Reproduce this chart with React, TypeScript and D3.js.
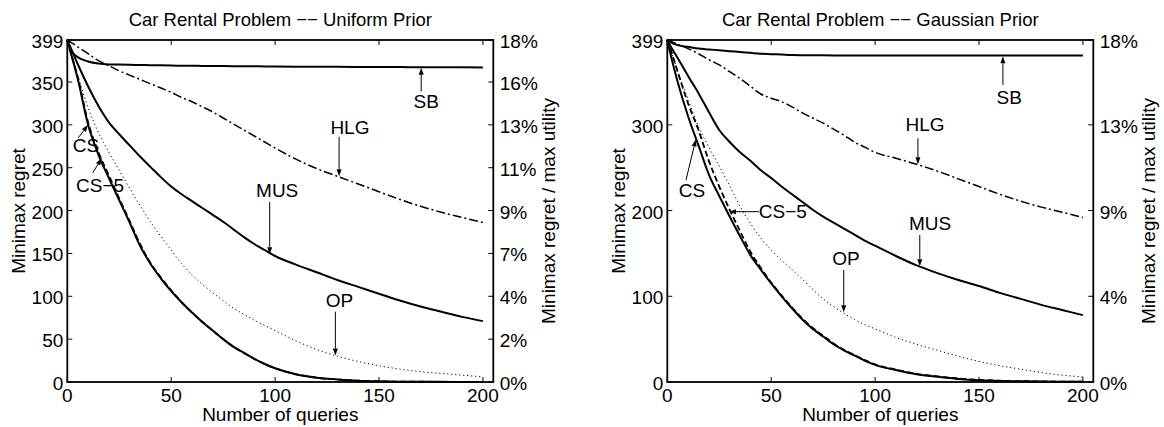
import React from "react";
import * as d3 from "d3";

const queries = [0, 2, 5, 10, 15, 20, 25, 30, 35, 40, 45, 50, 55, 60, 65, 70, 75, 80, 85, 90, 95, 100, 110, 120, 130, 140, 150, 160, 170, 180, 190, 200];

// Uniform prior
const sbUniform = [399, 386, 379, 374, 371.5, 370.5, 370.3, 370, 369.8, 369.6, 369.4, 369.2, 369, 368.9, 368.8, 368.7, 368.6, 368.5, 368.4, 368.3, 368.2, 368, 367.9, 367.8, 367.7, 367.6, 367.5, 367.4, 367.3, 367.2, 367.1, 367];
const hlgUniform = [399, 396, 391, 383, 375, 369, 363, 358, 353, 348, 343, 338, 332, 327, 321, 315, 308, 301, 294, 287, 280, 273, 260, 249, 240, 231, 222, 213, 205, 198, 192, 186];
const musUniform = [399, 388, 371, 345, 322, 303, 289, 276, 263, 251, 239, 228, 219, 211, 203, 195, 187, 178, 169, 161, 154, 147, 137, 128, 119, 111, 103, 95, 88, 82, 76, 71];
const csUniform = [399, 381, 354, 300, 265, 238, 212, 186, 159, 138, 121, 106, 93, 81, 70, 60, 50, 41, 34, 27, 21, 16, 9, 5, 3, 1.5, 0.8, 0.4, 0.3, 0.2, 0.1, 0.1];
const cs5Uniform = [399, 382, 356, 303, 268, 241, 214, 188, 161, 139, 122, 107, 93, 81, 70, 60, 50, 41, 34, 27, 21, 16, 9, 5, 3, 1.5, 0.8, 0.4, 0.3, 0.2, 0.1, 0.1];
const opUniform = [399, 383, 358, 320, 291, 268, 247, 226, 206, 187, 170, 154, 138, 125, 114, 104, 95, 86, 79, 72, 66, 60, 48, 38, 30, 24, 19, 15, 12, 10, 8, 6];

// Gaussian prior
const sbGaussian = [399, 396, 393, 391, 389, 388, 387, 386, 385, 384, 383, 382.5, 382, 381.5, 381.3, 381.2, 381.1, 381, 381, 381, 381, 381, 381, 381, 381, 381, 381, 381, 381, 381, 381, 381];
const hlgGaussian = [399, 397, 394, 389, 383, 376, 370, 362, 354, 345, 336, 331, 327, 321, 314, 308, 302, 295, 288, 280, 274, 268, 261, 254, 246, 237, 228, 219, 211, 204, 198, 192];
const musGaussian = [399, 390, 378, 357, 337, 315, 294, 280, 268, 258, 247, 238, 228, 219, 210, 201, 193, 186, 179, 172, 165, 159, 147, 136, 127, 119, 112, 104, 97, 90, 84, 78];
const csGaussian = [399, 378, 350, 310, 276, 242, 217, 193, 170, 148, 131, 115, 100, 86, 73, 62, 53, 44, 37, 31, 25, 20, 14, 9, 6, 3.5, 2, 1.2, 0.8, 0.5, 0.3, 0.2];
const cs5Gaussian = [399, 385, 362, 325, 294, 258, 228, 201, 176, 152, 133, 116, 101, 87, 74, 63, 54, 45, 37.5, 31.5, 25.5, 20.5, 14.5, 9.5, 6.5, 4, 2.5, 1.5, 1, 0.7, 0.5, 0.4];
const opGaussian = [399, 385, 362, 330, 298, 274, 252, 229, 205, 185, 168, 154, 142, 131, 120, 108, 97, 88, 80, 73, 67, 62, 52, 44, 37, 30, 24, 19, 15, 11, 8, 6];

const xTicks = [0, 50, 100, 150, 200];
const yTicksUniform = [0, 50, 100, 150, 200, 250, 300, 350, 399];
const pctLabelsUniform = ["0%", "2%", "4%", "7%", "9%", "11%", "13%", "16%", "18%"];
const yTicksGaussian = [0, 100, 200, 300, 399];
const pctLabelsGaussian = ["0%", "4%", "9%", "13%", "18%"];

// label text position and arrow (from -> to), in data units
const notesUniform = [
  { label: "SB", tx: 172.7, ty: 328, x1: 170.3, y1: 339, x2: 170.3, y2: 366.5 },
  { label: "HLG", tx: 136, ty: 298, x1: 130.8, y1: 286, x2: 130.8, y2: 240 },
  { label: "MUS", tx: 101, ty: 224, x1: 97.4, y1: 210, x2: 97.4, y2: 149 },
  { label: "OP", tx: 131, ty: 96, x1: 129, y1: 82, x2: 129, y2: 31 },
  { label: "CS", tx: 9, ty: 276, x1: 5.2, y1: 284.7, x2: 10, y2: 300 },
  { label: "CS\u22125", tx: 15.8, ty: 230, x1: 12.2, y1: 243.9, x2: 16.6, y2: 261 },
];
const notesGaussian = [
  { label: "SB", tx: 164.5, ty: 332, x1: 161.5, y1: 346.6, x2: 161.5, y2: 380 },
  { label: "HLG", tx: 124, ty: 301, x1: 120.6, y1: 284.4, x2: 120.6, y2: 254 },
  { label: "MUS", tx: 126.5, ty: 185.5, x1: 121.5, y1: 171.5, x2: 121.5, y2: 135 },
  { label: "OP", tx: 86, ty: 144.7, x1: 84.9, y1: 130.7, x2: 84.9, y2: 81.5 },
  { label: "CS", tx: 11.9, ty: 224, x1: 9, y1: 235.7, x2: 13.7, y2: 283 },
  { label: "CS\u22125", tx: 55.6, ty: 199.5, x1: 44.2, y1: 198.7, x2: 29.7, y2: 198.7 },
];

const FONT = "'Liberation Sans', Arial, Helvetica, sans-serif";
const FS = 19;

type Note = { label: string; tx: number; ty: number; x1: number; y1: number; x2: number; y2: number };

function Panel({ ox, title, series, yTicks, pctLabels, notes }: {
  ox: number; title: string;
  series: { vals: number[]; dash: string; w: number }[];
  yTicks: number[]; pctLabels: string[]; notes: Note[];
}) {
  const left = 67.3, right = 493.3, top = 40, bottom = 382;
  const x = d3.scaleLinear().domain([0, 205]).range([left, right]);
  const y = d3.scaleLinear().domain([0, 399]).range([bottom, top]);
  const line = d3.line<number>()
    .x((_, i) => x(queries[i]))
    .y(d => y(d))
    .curve(d3.curveMonotoneX);
  const tk = 5;
  const cx = (left + right) / 2;

  return (
    <g transform={`translate(${ox},0)`} fontFamily={FONT} fontSize={FS}>
      {/* curves */}
      {series.map((s, i) => (
        <path key={i} d={line(s.vals) || ""} fill="none" stroke="#000"
          strokeWidth={s.w} strokeDasharray={s.dash} />
      ))}

      {/* annotations */}
      {notes.map((n, i) => {
        const ax1 = x(n.x1), ay1 = y(n.y1), ax2 = x(n.x2), ay2 = y(n.y2);
        const ang = Math.atan2(ay2 - ay1, ax2 - ax1);
        const hl = 7, hw = 2.5;
        const bx = ax2 - hl * Math.cos(ang), by = ay2 - hl * Math.sin(ang);
        const px = -Math.sin(ang) * hw, py = Math.cos(ang) * hw;
        return (
          <g key={i}>
            <line x1={ax1} y1={ay1} x2={bx} y2={by} stroke="#000" strokeWidth={1} />
            <polygon points={`${ax2},${ay2} ${bx + px},${by + py} ${bx - px},${by - py}`} fill="#000" />
            <text x={x(n.tx)} y={y(n.ty) + 7} textAnchor="middle">{n.label}</text>
          </g>
        );
      })}

      {/* box */}
      <rect x={left} y={top} width={right - left} height={bottom - top} fill="none" stroke="#000" strokeWidth={1.8} />

      {/* x ticks */}
      {xTicks.map(t => (
        <g key={t}>
          <line x1={x(t)} x2={x(t)} y1={bottom} y2={bottom - tk} stroke="#000" strokeWidth={1} />
          <line x1={x(t)} x2={x(t)} y1={top} y2={top + tk} stroke="#000" strokeWidth={1} />
          <text x={x(t)} y={bottom + 20} textAnchor="middle">{t}</text>
        </g>
      ))}

      {/* y ticks, left counts and right percentages */}
      {yTicks.map((t, i) => (
        <g key={t}>
          <line x1={left} x2={left + tk} y1={y(t)} y2={y(t)} stroke="#000" strokeWidth={1} />
          <line x1={right} x2={right - tk} y1={y(t)} y2={y(t)} stroke="#000" strokeWidth={1} />
          <text x={left - 4} y={y(t) + 8} textAnchor="end">{t}</text>
          <text x={right + 6.5} y={y(t) + 8} textAnchor="start">{pctLabels[i]}</text>
        </g>
      ))}

      <text x={cx} y={26} textAnchor="middle" fontSize={18.5}>{title}</text>
      <text x={cx} y={421} textAnchor="middle">Number of queries</text>
      <text transform={`translate(25,${(top + bottom) / 2}) rotate(-90)`} textAnchor="middle">Minimax regret</text>
      <text transform={`translate(555,${(top + bottom) / 2}) rotate(-90)`} textAnchor="middle">Minimax regret / max utility</text>
    </g>
  );
}

export default function App() {
  const styleOf = (name: string) => {
    if (name === "hlg") return { dash: "9 3 2 3", w: 1.5 };
    if (name === "cs5") return { dash: "6 3", w: 1.8 };
    if (name === "op") return { dash: "1.2 2.8", w: 1 };
    return { dash: "", w: 2 };
  };
  const uniform = [
    { vals: sbUniform, ...styleOf("sb") },
    { vals: hlgUniform, ...styleOf("hlg") },
    { vals: musUniform, ...styleOf("mus") },
    { vals: opUniform, ...styleOf("op") },
    { vals: csUniform, ...styleOf("cs") },
    { vals: cs5Uniform, ...styleOf("cs5") },
  ];
  const gaussian = [
    { vals: sbGaussian, ...styleOf("sb") },
    { vals: hlgGaussian, ...styleOf("hlg") },
    { vals: musGaussian, ...styleOf("mus") },
    { vals: opGaussian, ...styleOf("op") },
    { vals: csGaussian, ...styleOf("cs") },
    { vals: cs5Gaussian, ...styleOf("cs5") },
  ];
  return (
    <svg width={1164} height={427} style={{ position: "absolute", left: 0, top: 0, background: "#fff" }}>
      <rect width={1164} height={427} fill="#fff" />
      <Panel ox={0} title={"Car Rental Problem \u2212\u2212 Uniform Prior"} series={uniform}
        yTicks={yTicksUniform} pctLabels={pctLabelsUniform} notes={notesUniform} />
      <Panel ox={600} title={"Car Rental Problem \u2212\u2212 Gaussian Prior"} series={gaussian}
        yTicks={yTicksGaussian} pctLabels={pctLabelsGaussian} notes={notesGaussian} />
    </svg>
  );
}
